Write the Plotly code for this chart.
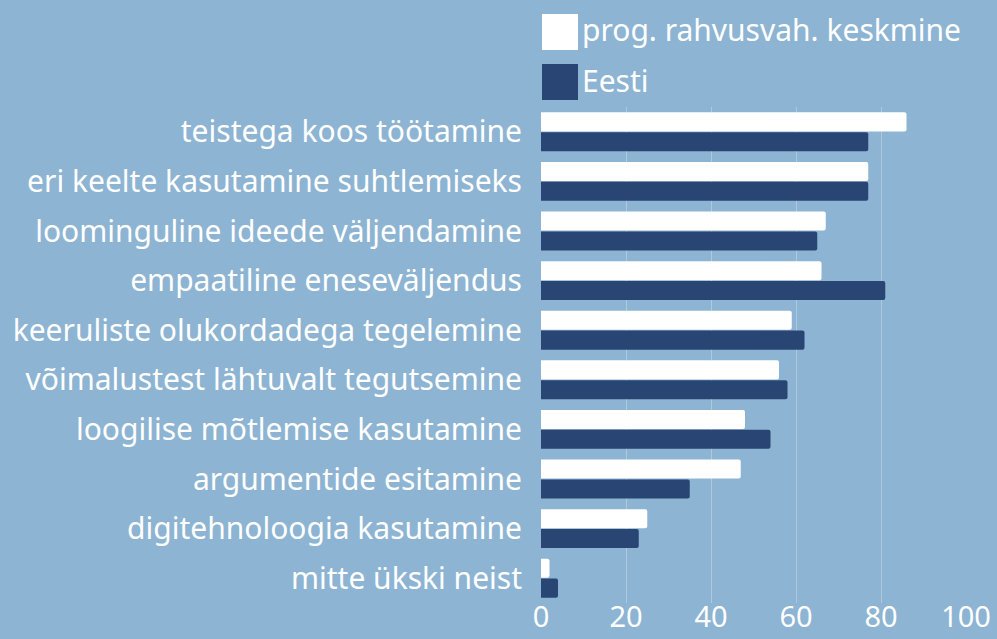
import plotly.graph_objects as go

categories = [
    "teistega koos töötamine",
    "eri keelte kasutamine suhtlemiseks",
    "loominguline ideede väljendamine",
    "empaatiline eneseväljendus",
    "keeruliste olukordadega tegelemine",
    "võimalustest lähtuvalt tegutsemine",
    "loogilise mõtlemise kasutamine",
    "argumentide esitamine",
    "digitehnoloogia kasutamine",
    "mitte ükski neist",
]
intl_name = "prog. rahvusvah. keskmine"
intl_values = [86, 77, 67, 66, 59, 56, 48, 47, 25, 2]
est_name = "Eesti"
est_values = [77, 77, 65, 81, 62, 58, 54, 35, 23, 4]
x_ticks = [0, 20, 40, 60, 80, 100]

BG = "#8db4d2"
NAVY = "#284574"
FONT = "Noto Sans"

fig = go.Figure()
fig.add_trace(go.Bar(y=categories, x=intl_values, name=intl_name, orientation="h",
                     marker=dict(color="white", cornerradius=2, line=dict(width=0))))
fig.add_trace(go.Bar(y=categories, x=est_values, name=est_name, orientation="h",
                     marker=dict(color=NAVY, cornerradius=2, line=dict(width=0))))

fig.update_layout(
    width=997, height=639,
    paper_bgcolor=BG, plot_bgcolor=BG,
    barmode="group", bargap=0.2, bargroupgap=0.04,
    showlegend=False,
    margin=dict(l=541, r=31, t=107, b=36),
    font=dict(family=FONT, color="white", size=30),
    xaxis=dict(range=[0, 100], tickvals=x_ticks, showgrid=True, automargin=False,
               gridcolor="rgba(255,255,255,0.3)", gridwidth=1, zeroline=False,
               tickfont=dict(size=29), ticklabelstandoff=-6),
    yaxis=dict(autorange="reversed", showgrid=False, zeroline=False, automargin=False,
               ticklabelstandoff=18, tickfont=dict(size=30)),
)

# custom legend with large square swatches
legend_items = [(intl_name, "white", 14), (est_name, NAVY, 64)]
for name, color, top in legend_items:
    fig.add_shape(type="rect", xref="paper", yref="paper",
                  x0=(542 - 541) / 425, x1=(578 - 541) / 425,
                  y0=1 + (107 - top - 36) / 496, y1=1 + (107 - top) / 496,
                  fillcolor=color, line=dict(width=0), layer="above")
    fig.add_annotation(text=name, xref="paper", yref="paper",
                       x=(580 - 541) / 425, y=1 + (107 - top - 16) / 496,
                       xanchor="left", yanchor="middle", showarrow=False,
                       font=dict(size=30, color="white", family=FONT))

fig.write_html("out.html", config={"displayModeBar": False},
               post_script="document.body.style.margin='0';document.body.style.overflow='hidden';")
